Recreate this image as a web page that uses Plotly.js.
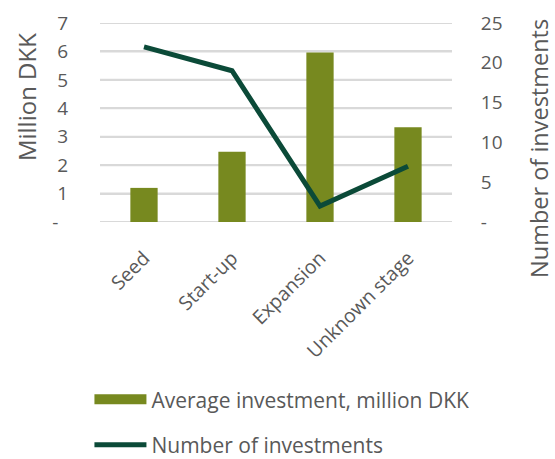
<!DOCTYPE html>
<html>
<head>
<meta charset="utf-8">
<script src="https://cdn.plot.ly/plotly-3.0.1.min.js"></script>
<style>html,body{margin:0;padding:0;background:#fff;}#chart{width:555px;height:459px;}</style>
</head>
<body>
<div id="chart"></div>
<script>
const categories = ["Seed", "Start-up", "Expansion", "Unknown stage"];
const avgInvestment = [1.2, 2.47, 5.96, 3.33];
const numInvestments = [22, 19, 2, 7];
const leftTickVals = [0, 1, 2, 3, 4, 5, 6, 7];
const leftTickText = ["-\u00a0\u00a0", "1", "2", "3", "4", "5", "6", "7"];
const rightTickVals = [0, 5, 10, 15, 20, 25];
const rightTickText = ["-", "5", "10", "15", "20", "25"];
const leftTitle = "Million DKK";
const rightTitle = "Number of investments";

const fontFam = "Open Sans, Noto Sans, sans-serif";
const grey = "#595959";
const barColor = "#77891f";
const gridColor = "#d9d9d9";

const traces = [
  {
    type: "bar", x: categories, y: avgInvestment,
    name: "Average investment, million DKK",
    marker: {color: barColor}, width: 0.31, showlegend: false
  },
  {
    // legend entry drawn as a wide block, like the reference
    type: "scatter", mode: "lines", x: categories, y: categories.map(() => null),
    name: "Average investment, million DKK", hoverinfo: "skip",
    line: {color: barColor, width: 13}, legendgroup: "a", showlegend: true
  },
  {
    type: "scatter", mode: "lines", x: categories, y: numInvestments, yaxis: "y2",
    name: "Number of investments",
    line: {color: "#0b4a38", width: 5}, legendgroup: "b"
  }
];

// horizontal gridlines at each left-axis tick, placed through the y axis scale
const gridShapes = leftTickVals.map(v => ({
  type: "line", xref: "paper", x0: 0, x1: 1, yref: "y", y0: v, y1: v,
  line: {color: gridColor, width: 2}, layer: "below"
}));

const layout = {
  width: 555, height: 459,
  margin: {l: 100, r: 103, t: 23, b: 237, autoexpand: false},
  paper_bgcolor: "#ffffff", plot_bgcolor: "rgba(0,0,0,0)",
  font: {family: fontFam, color: grey, size: 18},
  showlegend: true,
  shapes: gridShapes,
  xaxis: {
    tickangle: -45, tickfont: {size: 19.5, color: grey},
    ticks: "outside", ticklen: 16, tickcolor: "rgba(0,0,0,0)",
    showgrid: false, zeroline: false, showline: false,
    type: "category"
  },
  yaxis: {
    range: [0, 7], tickvals: leftTickVals, ticktext: leftTickText,
    showgrid: true, gridcolor: gridColor, gridwidth: 2, zeroline: false,
    ticks: "outside", ticklen: 27, tickcolor: "rgba(0,0,0,0)",
    tickfont: {size: 19, color: grey}
  },
  yaxis2: {
    range: [0, 25], tickvals: rightTickVals, ticktext: rightTickText,
    overlaying: "y", side: "right", showgrid: false, zeroline: false,
    ticks: "outside", ticklen: 24, tickcolor: "rgba(0,0,0,0)",
    tickfont: {size: 19, color: grey}
  },
  annotations: [
    {text: leftTitle, xref: "paper", yref: "paper", x: -0.21, y: 0.628,
     xanchor: "center", yanchor: "middle", textangle: -90, showarrow: false,
     font: {size: 24, color: grey}},
    {text: rightTitle, xref: "paper", yref: "paper", x: 1.247, y: 0.372,
     xanchor: "center", yanchor: "middle", textangle: -90, showarrow: false,
     font: {size: 23.5, color: grey}}
  ],
  legend: {
    orientation: "v", x: -0.03, xanchor: "left", y: -0.79, yanchor: "top",
    font: {size: 21, color: grey}, itemwidth: 52, tracegroupgap: 15,
    traceorder: "grouped"
  }
};

Plotly.newPlot("chart", traces, layout, {displayModeBar: false, staticPlot: true});
</script>
</body>
</html>
